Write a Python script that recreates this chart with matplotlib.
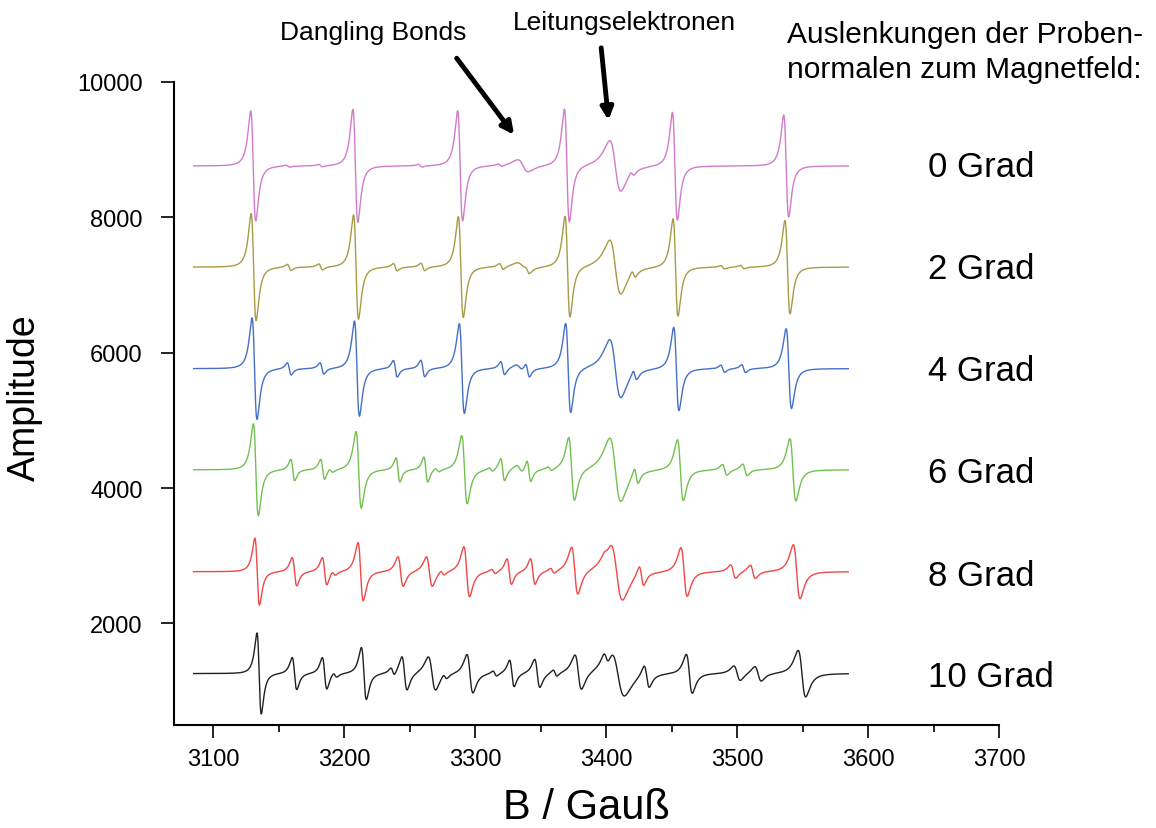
import numpy as np
import matplotlib.pyplot as plt

plt.rcParams['font.family'] = ['Liberation Sans', 'DejaVu Sans']

# angles of the sample normal and baseline offsets of the stacked spectra
angles = ["0 Grad", "2 Grad", "4 Grad", "6 Grad", "8 Grad", "10 Grad"]
offsets = [8760, 7265, 5765, 4270, 2765, 1260]
colors = ["#D27BCB", "#A89B45", "#4470C8", "#72C150", "#F04848", "#202020"]

# line positions (G), amplitudes (half peak-to-peak) and peak-to-peak widths (G)
pos_00 = [3130.5, 3208.5, 3288.5, 3370.0, 3452.5, 3537.5,
          3157, 3182, 3258, 3319, 3336.5, 3407, 3420]
amp_00 = [812, 834, 812, 834, 797, 753,
          15, 18, 20, 20, 90, 375, 40]
wid_00 = [3.8, 3.8, 3.8, 3.8, 3.8, 3.8,
          3, 3, 3, 3, 8, 8.5, 3]

pos_02 = [3130.8, 3209.0, 3289.0, 3370.5, 3453.0, 3538.5,
          3158, 3182, 3239, 3260, 3320, 3336, 3340, 3407, 3421, 3489, 3504]
amp_02 = [790, 770, 745, 745, 720, 690,
          45, 45, 55, 55, 45, 60, 45, 400, 60, 25, 25]
wid_02 = [3.8, 3.8, 3.8, 3.8, 3.8, 3.9,
          3, 3, 3, 3, 3, 8, 3, 8.5, 3, 3, 3]

pos_04 = [3131.5, 3209.7, 3289.8, 3371.0, 3453.6, 3539.5,
          3158, 3183, 3239, 3260, 3321, 3334, 3340, 3407, 3422, 3489, 3505]
amp_04 = [750, 703, 664, 659, 615, 590,
          91, 84, 123, 123, 98, 50, 103, 430, 81, 54, 59]
wid_04 = [3.8, 3.8, 3.9, 3.9, 4.0, 4.1,
          3, 3, 3, 3, 3, 6, 3, 8.5, 3, 3, 3]

pos_06 = [3132.5, 3211.0, 3291.8, 3373.6, 3456.7, 3542.6,
          3160.7, 3183.5, 3190, 3241, 3262.3, 3271, 3312, 3321, 3334,
          3341, 3357, 3407, 3423, 3490.5, 3506]
amp_06 = [679, 566, 504, 467, 450, 460,
          160, 152, 30, 180, 187, 30, 30, 167, 60,
          160, 30, 470, 123, 81, 86]
wid_06 = [3.8, 4.0, 4.2, 4.4, 4.5, 4.6,
          3, 3, 3, 3, 3, 3, 3, 3, 5,
          3, 3, 8.5, 3, 3.5, 3.5]

pos_08 = [3133.5, 3212.5, 3293.5, 3376.0, 3459.5, 3545.5,
          3162, 3185, 3192, 3243, 3265, 3275, 3314, 3326, 3344,
          3359, 3400, 3408, 3427, 3497, 3512]
amp_08 = [495, 430, 370, 350, 360, 400,
          210, 205, 35, 220, 220, 35, 35, 190, 190,
          40, 40, 420, 150, 100, 100]
wid_08 = [3.5, 4.0, 4.4, 4.8, 4.8, 5.2,
          3.5, 3.5, 3, 4, 4.5, 3, 3, 3.5, 3.5,
          3, 4, 9, 3.5, 4, 4]

pos_10 = [3135.0, 3215.0, 3296.0, 3378.7, 3463.5, 3549.5,
          3162, 3185, 3193, 3237, 3246, 3267, 3277, 3315, 3328,
          3347.4, 3361, 3400, 3409, 3431, 3500, 3516]
amp_10 = [598, 384, 285, 258, 288, 344,
          238, 234, 37, 60, 250, 248, 40, 40, 197,
          209, 50, 100, 330, 167, 110, 110]
wid_10 = [3.3, 3.8, 4.6, 5.1, 4.6, 5.8,
          3.5, 3.5, 3, 3, 4, 5.6, 3, 3, 3.5,
          4, 3, 4, 10, 4, 5, 5]

positions = [pos_00, pos_02, pos_04, pos_06, pos_08, pos_10]
amplitudes = [amp_00, amp_02, amp_04, amp_06, amp_08, amp_10]
widths = [wid_00, wid_02, wid_04, wid_06, wid_08, wid_10]


def lorentz_deriv(b, centre, amp, wpp):
    # first-derivative Lorentzian, amp = height of the positive lobe
    g = wpp * np.sqrt(3) / 2
    u = (b - centre) / g
    return amp * (-2 * u / (1 + u ** 2) ** 2) / 0.6495


field = np.arange(3085, 3585, 0.1)

fig = plt.figure(figsize=(11.56, 8.29), dpi=100)
ax = fig.add_axes([174 / 1156, 1 - 726 / 829, 825 / 1156, 643 / 829])

for k in range(len(angles)):
    y = np.full_like(field, offsets[k], dtype=float)
    for c, a, w in zip(positions[k], amplitudes[k], widths[k]):
        y += lorentz_deriv(field, c, a, w)
    ax.plot(field, y, '-', color=colors[k], lw=1.0)
    fig.text(928 / 1156, 1 - (168 + 102 * k) / 829, angles[k],
             fontsize=25, ha='left', va='center')

ax.set_xlim(3070, 3700)
ax.set_ylim(500, 10000)
ax.set_xticks(np.arange(3100, 3701, 100))
ax.set_xticks(np.arange(3150, 3700, 100), minor=True)
ax.set_yticks(np.arange(2000, 10001, 2000))
ax.spines['top'].set_visible(False)
ax.spines['right'].set_visible(False)
ax.spines['left'].set_linewidth(1.5)
ax.spines['bottom'].set_linewidth(1.5)
ax.tick_params(which='major', direction='out', length=9.5, width=1.2, labelsize=17)
ax.tick_params(axis='y', pad=13)
ax.tick_params(axis='x', pad=7)
ax.tick_params(which='minor', direction='out', length=5, width=1.2)

ax.set_xlabel("B / Gauß", fontsize=30, va='center')
ax.xaxis.set_label_coords(0.5, -0.1275)
ax.set_ylabel("Amplitude", fontsize=27, va='center')
ax.yaxis.set_label_coords(-0.1806, 0.51)

# annotations
ax.annotate('', xy=(3331, 9188), xytext=(3284.6, 10384),
            arrowprops=dict(arrowstyle='-|>', lw=3.5, color='black', mutation_scale=18),
            annotation_clip=False)
ax.annotate('', xy=(3402, 9395), xytext=(3396, 10546),
            arrowprops=dict(arrowstyle='-|>', lw=3.5, color='black', mutation_scale=18),
            annotation_clip=False)
fig.text(373 / 1156, 1 - 33 / 829, "Dangling Bonds", fontsize=19, ha='center', va='center')
fig.text(624 / 1156, 1 - 23 / 829, "Leitungselektronen", fontsize=19, ha='center', va='center')
fig.text(787 / 1156, 1 - 35 / 829, "Auslenkungen der Proben-", fontsize=21.5, ha='left', va='center')
fig.text(787 / 1156, 1 - 70 / 829, "normalen zum Magnetfeld:", fontsize=21.5, ha='left', va='center')

fig.savefig("out.png", dpi=100)
